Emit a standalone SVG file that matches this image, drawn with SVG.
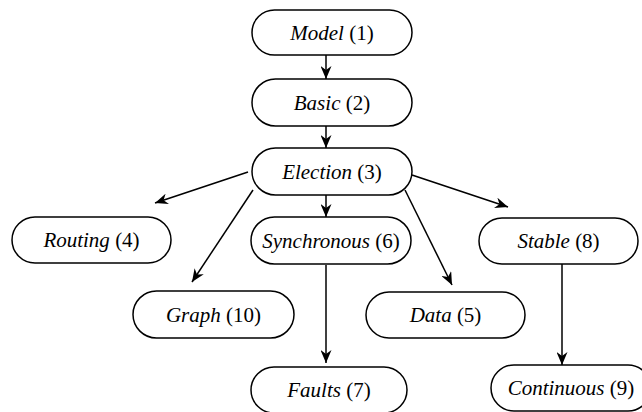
<svg xmlns="http://www.w3.org/2000/svg" width="642" height="412" viewBox="0 0 642 412">
<style>
.node rect{fill:#fff;stroke:#000;stroke-width:1.5}
.edges line{stroke:#000;stroke-width:1.5;marker-end:url(#ah)}
</style>
<defs>
<marker id="ah" markerUnits="userSpaceOnUse" markerWidth="14" markerHeight="11" refX="13" refY="5.5" orient="auto" viewBox="0 0 14 11">
<path d="M0,0 L13,5.5 L0,11 L4,5.5 z" fill="#000"/>
</marker>
</defs>
<rect width="642" height="412" fill="#fff"/>
<g class="edges">
<line x1="326" y1="55" x2="326" y2="79"/>
<line x1="326" y1="126" x2="326" y2="148"/>
<line x1="248" y1="172" x2="155" y2="203"/>
<line x1="253" y1="190" x2="192" y2="282"/>
<line x1="326" y1="195" x2="326" y2="217"/>
<line x1="405" y1="190" x2="452" y2="285"/>
<line x1="412" y1="175" x2="508" y2="207"/>
<line x1="326" y1="265" x2="326" y2="363"/>
<line x1="562" y1="264" x2="562" y2="365"/>
</g>
<g font-family="Liberation Serif, Times New Roman, serif" font-size="21" text-anchor="middle" fill="#000">
<g id="model" class="node"><rect x="252" y="10" width="160" height="45" rx="22.5"/><text x="332" y="40"><tspan font-style="italic">Model</tspan> (1)</text></g>
<g id="basic" class="node"><rect x="252" y="79" width="160" height="47" rx="23.5"/><text x="332" y="110"><tspan font-style="italic">Basic</tspan> (2)</text></g>
<g id="election" class="node"><rect x="252" y="148" width="160" height="47" rx="23.5"/><text x="332" y="179"><tspan font-style="italic">Election</tspan> (3)</text></g>
<g id="routing" class="node"><rect x="12" y="217" width="159" height="46" rx="23"/><text x="91.5" y="247"><tspan font-style="italic">Routing</tspan> (4)</text></g>
<g id="synchronous" class="node"><rect x="251" y="217" width="160" height="47" rx="23.5"/><text x="331" y="248"><tspan font-style="italic">Synchronous</tspan> (6)</text></g>
<g id="stable" class="node"><rect x="479" y="218" width="159" height="46" rx="23"/><text x="558.5" y="248"><tspan font-style="italic">Stable</tspan> (8)</text></g>
<g id="graph" class="node"><rect x="133" y="291" width="161" height="47" rx="23.5"/><text x="213.5" y="322"><tspan font-style="italic">Graph</tspan> (10)</text></g>
<g id="data" class="node"><rect x="366" y="292" width="159" height="46" rx="23"/><text x="445.5" y="322"><tspan font-style="italic">Data</tspan> (5)</text></g>
<g id="faults" class="node"><rect x="251" y="367" width="156" height="46" rx="23"/><text x="329" y="397"><tspan font-style="italic">Faults</tspan> (7)</text></g>
<g id="continuous" class="node"><rect x="491" y="365" width="160" height="46" rx="23"/><text x="571" y="395"><tspan font-style="italic">Continuous</tspan> (9)</text></g>
</g>
</svg>
